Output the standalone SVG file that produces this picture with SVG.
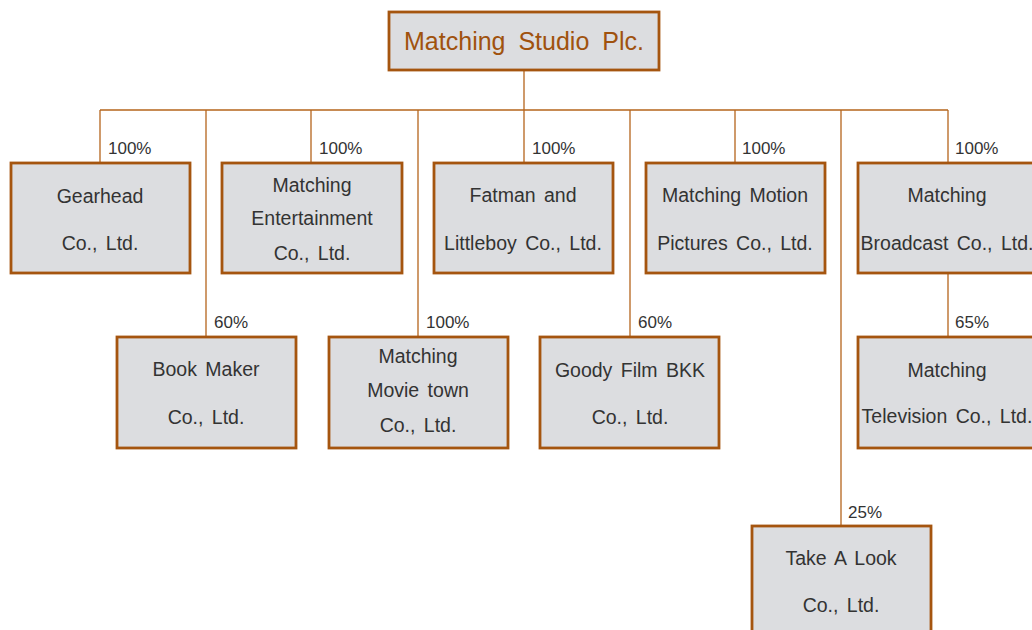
<svg xmlns="http://www.w3.org/2000/svg" width="1032" height="630" viewBox="0 0 1032 630">
<style>
.box{fill:#DCDDE0;stroke:#A5550F;stroke-width:2.8}
.lbl{font-family:"Liberation Sans",Arial,sans-serif;font-size:19.5px;fill:#333;text-anchor:middle;word-spacing:3px}
.pct{font-family:"Liberation Sans",Arial,sans-serif;font-size:17px;fill:#333}
.top{font-family:"Liberation Sans",Arial,sans-serif;font-size:25px;fill:#A0520E;text-anchor:middle;word-spacing:6px}
.ln{stroke:#B5651D;stroke-width:1.3;fill:none}
</style>
<rect width="1032" height="630" fill="#fff"/>
<g id="connectors">
<path class="ln" d="M524 70V162M100 110H948M100 110V162M206 110V337M311 110V162M418 110V337M630 110V337M735 110V162M841 110V525M948 110V162M948 274V337"/>
<text class="pct" x="108" y="154">100%</text>
<text class="pct" x="319" y="154">100%</text>
<text class="pct" x="532" y="154">100%</text>
<text class="pct" x="742" y="154">100%</text>
<text class="pct" x="955" y="154">100%</text>
<text class="pct" x="214" y="328">60%</text>
<text class="pct" x="426" y="328">100%</text>
<text class="pct" x="638" y="328">60%</text>
<text class="pct" x="955" y="328">65%</text>
<text class="pct" x="848" y="518">25%</text>
</g>
<g id="matching-studio">
<rect class="box" x="389" y="12" width="270" height="58"/>
<text class="top" x="524" y="50">Matching Studio Plc.</text>
</g>
<g id="gearhead">
<rect class="box" x="11" y="163" width="179" height="110"/>
<text class="lbl" x="100" y="203">Gearhead</text>
<text class="lbl" x="100" y="250">Co., Ltd.</text>
</g>
<g id="entertainment">
<rect class="box" x="222" y="163" width="180" height="110"/>
<text class="lbl" x="312" y="192">Matching</text>
<text class="lbl" x="312" y="225">Entertainment</text>
<text class="lbl" x="312" y="260">Co., Ltd.</text>
</g>
<g id="fatman">
<rect class="box" x="434" y="163" width="179" height="110"/>
<text class="lbl" x="523" y="202">Fatman and</text>
<text class="lbl" x="523" y="250">Littleboy Co., Ltd.</text>
</g>
<g id="motion">
<rect class="box" x="646" y="163" width="179" height="110"/>
<text class="lbl" x="735" y="202">Matching Motion</text>
<text class="lbl" x="735" y="250">Pictures Co., Ltd.</text>
</g>
<g id="broadcast">
<rect class="box" x="858" y="163" width="180" height="110"/>
<text class="lbl" x="947" y="202">Matching</text>
<text class="lbl" x="947" y="250">Broadcast Co., Ltd.</text>
</g>
<g id="bookmaker">
<rect class="box" x="117" y="337" width="179" height="111"/>
<text class="lbl" x="206" y="376">Book Maker</text>
<text class="lbl" x="206" y="424">Co., Ltd.</text>
</g>
<g id="movietown">
<rect class="box" x="329" y="337" width="179" height="111"/>
<text class="lbl" x="418" y="363">Matching</text>
<text class="lbl" x="418" y="397">Movie town</text>
<text class="lbl" x="418" y="432">Co., Ltd.</text>
</g>
<g id="goodyfilm">
<rect class="box" x="540" y="337" width="179" height="111"/>
<text class="lbl" x="630" y="377">Goody Film BKK</text>
<text class="lbl" x="630" y="424">Co., Ltd.</text>
</g>
<g id="television">
<rect class="box" x="858" y="337" width="180" height="111"/>
<text class="lbl" x="947" y="377">Matching</text>
<text class="lbl" x="947" y="423">Television Co., Ltd.</text>
</g>
<g id="takealook">
<rect class="box" x="752" y="526" width="179" height="115"/>
<text class="lbl" x="841" y="565">Take A Look</text>
<text class="lbl" x="841" y="612">Co., Ltd.</text>
</g>
</svg>
